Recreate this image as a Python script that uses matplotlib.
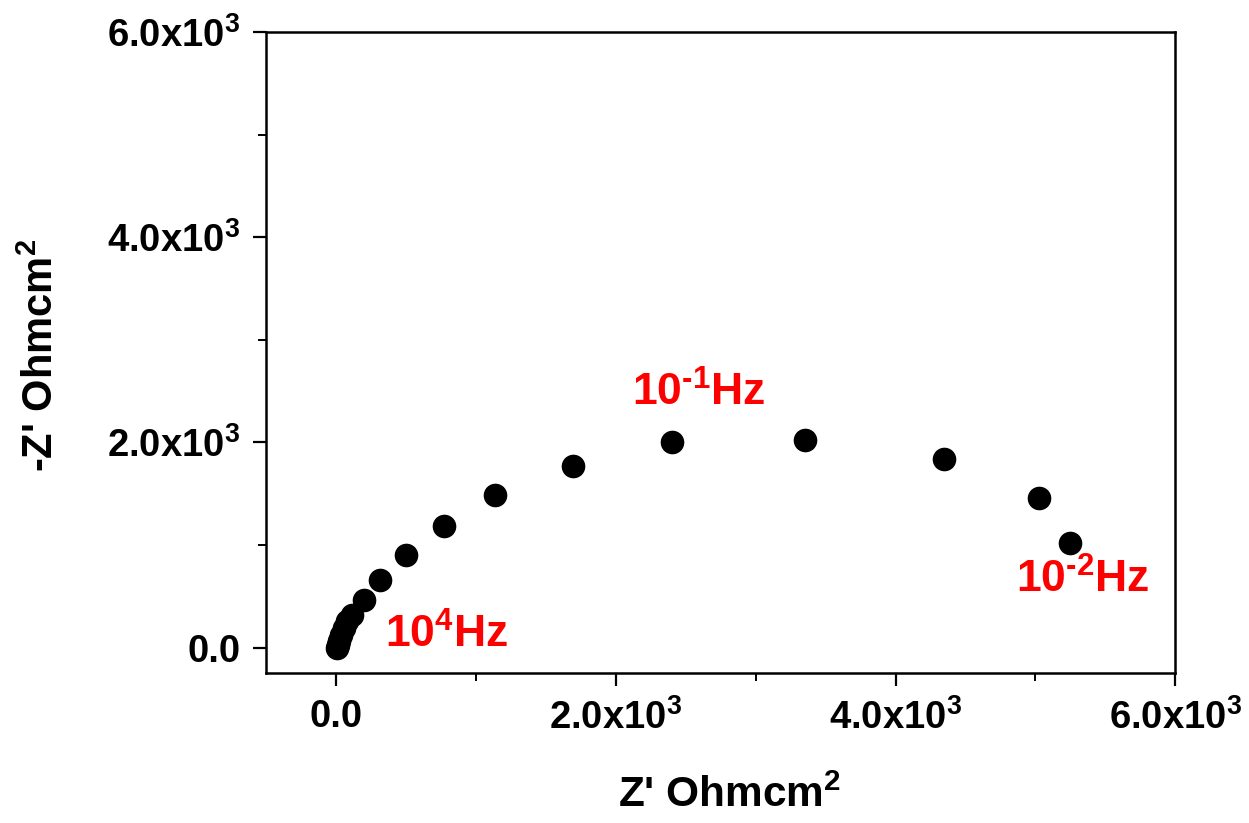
import matplotlib
matplotlib.use("Agg")
import matplotlib.pyplot as plt
from matplotlib.ticker import FixedLocator

plt.rcParams['font.family'] = ['Liberation Sans', 'DejaVu Sans']
plt.rcParams['font.weight'] = 'bold'
plt.rcParams['mathtext.fontset'] = 'custom'
plt.rcParams['mathtext.rm'] = 'Liberation Sans:bold'
plt.rcParams['mathtext.bf'] = 'Liberation Sans:bold'
plt.rcParams['mathtext.it'] = 'Liberation Sans:bold'
plt.rcParams['axes.unicode_minus'] = False

# Nyquist data (Z' , -Z'') in Ohm cm^2
z_real = [7, 14, 21, 36, 57, 79, 114, 200, 315, 501, 773, 1138, 1696, 2404, 3356, 4343, 5023, 5245]
z_imag = [0, 29, 68, 127, 195, 263, 322, 468, 663, 907, 1190, 1483, 1766, 2000, 2020, 1834, 1454, 1015]

tick_vals = [0, 2000, 4000, 6000]
tick_labels = ['0.0', '2.0x10$^3$', '4.0x10$^3$', '6.0x10$^3$']
minor_vals = [1000, 3000, 5000]

annotations = [
    ('10$^4$Hz', 351, 117),
    (r'10$^{\text{-1}}$Hz', 2118, 2478),
    (r'10$^{\text{-2}}$Hz', 4859, 654),
]

fig = plt.figure(figsize=(12.49, 8.23), dpi=100)
ax = fig.add_axes([0.213, 0.182, 0.728, 0.779])

ax.plot(z_real, z_imag, 'o', color='black', markersize=16, linestyle='none')

ax.set_xlim(-500, 6000)
ax.set_ylim(-250, 6000)

ax.set_xticks(tick_vals)
ax.set_xticklabels(tick_labels)
ax.set_yticks(tick_vals)
ax.set_yticklabels(tick_labels)
ax.xaxis.set_minor_locator(FixedLocator(minor_vals))
ax.yaxis.set_minor_locator(FixedLocator(minor_vals))

ax.tick_params(which='major', direction='out', length=9.5, width=1.6, labelsize=27.5, pad=9)
ax.tick_params(which='minor', direction='out', length=6, width=1.4)
for lab in ax.get_xticklabels() + ax.get_yticklabels():
    lab.set_fontweight('bold')

for sp in ax.spines.values():
    sp.set_linewidth(1.8)

ax.set_xlabel("Z' Ohmcm$^2$", fontsize=30.5, fontweight='bold')
ax.set_ylabel("-Z' Ohmcm$^2$", fontsize=30, fontweight='bold')
ax.xaxis.set_label_coords(0.51, -0.16)
ax.yaxis.set_label_coords(-0.224, 0.496)

for txt, x, y in annotations:
    ax.text(x, y, txt, color='#ff0000', fontsize=32, fontweight='bold', ha='left', va='center')

fig.savefig('out.png', dpi=100)
